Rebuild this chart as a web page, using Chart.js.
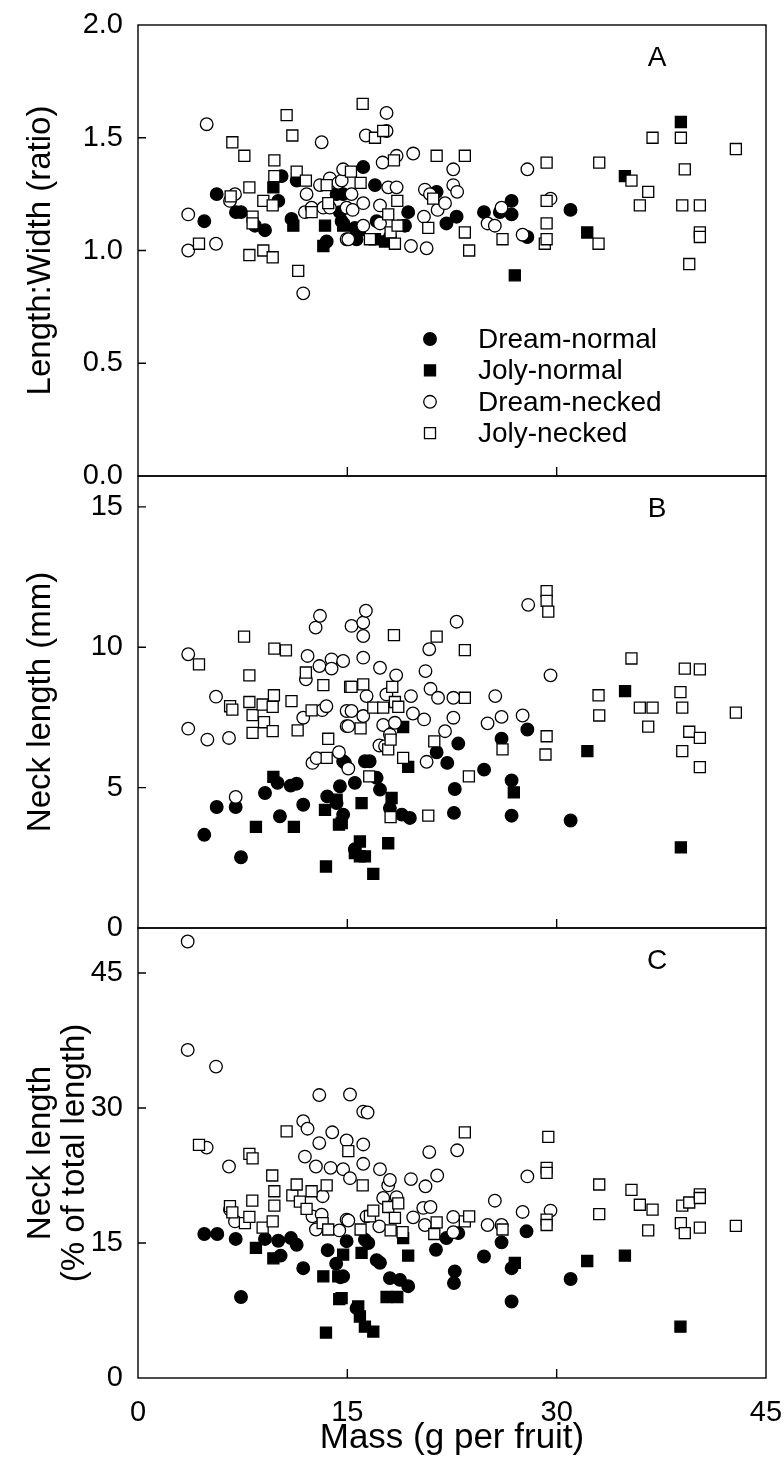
<!DOCTYPE html>
<html>
<head>
<meta charset="utf-8">
<script src="https://cdn.jsdelivr.net/npm/chart.js@4.4.0/dist/chart.umd.min.js"></script>
<style>
html, body { margin: 0; padding: 0; background: #fff; }
#wrap { position: relative; width: 784px; height: 1458px; overflow: hidden; }
canvas { position: absolute; left: 0; }
</style>
</head>
<body>
<div id="wrap">
  <canvas id="chartA" width="784" height="523" style="top:-11px"></canvas>
  <canvas id="chartB" width="784" height="524" style="top:440px"></canvas>
  <canvas id="chartC" width="784" height="566" style="top:892px"></canvas>
</div>
<script>
// ---- DATA: [mass, value] pairs ----
const seriesNames = ["Dream-normal", "Joly-normal", "Dream-necked", "Joly-necked"];
const xTickValues = [0, 15, 30, 45];

// Panel A: Length:Width ratio
const dreamNormalA = [[4.75,1.13],[5.64,1.25],[7.02,1.17],[7.38,1.17],[8.38,1.11],[9.1,1.09],[10.05,1.22],[10.29,1.33],[11.0,1.14],[11.37,1.31],[13.52,1.04],[14.23,1.25],[14.59,1.13],[14.47,1.17],[14.7,1.12],[14.7,1.25],[15.54,1.1],[15.66,1.05],[16.14,1.37],[16.98,1.29],[17.1,1.13],[18.05,1.06],[19.13,1.11],[19.36,1.17],[21.4,1.26],[22.1,1.12],[22.83,1.15],[24.79,1.17],[25.93,1.17],[26.77,1.22],[26.77,1.16],[27.9,1.06],[30.99,1.18]];
const jolyNormalA = [[9.7,1.28],[11.13,1.11],[13.4,1.11],[13.28,1.02],[14.7,1.11],[15.9,1.09],[16.98,1.05],[17.7,1.04],[19.0,1.11],[27.0,0.89],[32.19,1.08],[34.89,1.33],[38.9,1.57]];
const dreamNeckedA = [[3.6,1.16],[3.6,1.0],[4.92,1.56],[5.59,1.03],[6.59,1.22],[6.95,1.25],[11.84,0.81],[11.96,1.17],[12.08,1.25],[12.44,1.19],[13.04,1.29],[13.16,1.48],[13.28,1.19],[13.75,1.32],[13.75,1.19],[14.35,1.3],[14.6,1.31],[14.7,1.36],[14.95,1.19],[14.95,1.05],[15.07,1.05],[15.3,1.25],[15.38,1.18],[16.14,1.21],[16.14,1.11],[16.33,1.51],[17.34,1.2],[17.34,1.12],[17.53,1.39],[17.81,1.61],[17.81,1.53],[17.93,1.28],[18.53,1.28],[18.53,1.42],[19.56,1.02],[19.72,1.43],[20.49,1.15],[20.56,1.27],[20.68,1.01],[20.92,1.25],[21.47,1.18],[22.0,1.21],[22.59,1.29],[22.59,1.36],[22.87,1.26],[25.05,1.12],[25.57,1.11],[26.05,1.19],[27.56,1.07],[27.9,1.36],[29.56,1.23]];
const jolyNeckedA = [[4.37,1.03],[6.64,1.24],[6.76,1.48],[7.62,1.42],[7.98,1.28],[7.98,0.98],[8.21,1.15],[8.21,1.12],[8.98,1.22],[8.98,1.0],[9.65,1.2],[9.65,0.97],[9.77,1.4],[9.77,1.33],[10.65,1.6],[11.06,1.51],[11.37,1.35],[11.48,0.91],[12.03,1.31],[12.44,1.17],[13.52,1.29],[13.63,1.21],[15.26,1.35],[15.95,1.3],[16.1,1.65],[16.62,1.05],[16.98,1.5],[17.57,1.53],[17.93,1.16],[18.1,1.08],[18.34,1.4],[18.41,1.03],[18.58,1.22],[18.6,1.11],[20.8,1.1],[21.15,1.23],[21.4,1.42],[23.42,1.42],[23.42,1.08],[23.73,1.0],[26.12,1.05],[29.15,1.03],[29.28,1.05],[29.28,1.12],[29.28,1.22],[29.28,1.39],[33.0,1.03],[33.05,1.39],[35.36,1.31],[35.96,1.2],[36.56,1.26],[36.87,1.5],[38.9,1.5],[39.0,1.2],[39.18,1.36],[39.5,0.94],[40.26,1.2],[40.26,1.08],[40.26,1.06],[42.84,1.45]];

// Panel B: neck length (mm)
const dreamNormalB = [[4.75,3.32],[5.64,4.31],[7.0,4.31],[7.38,2.52],[9.1,4.81],[10.0,5.17],[10.17,3.98],[10.94,5.07],[11.37,5.14],[11.84,4.39],[13.56,4.69],[14.23,4.45],[14.47,5.05],[14.7,4.04],[14.7,5.94],[14.83,5.88],[15.54,5.17],[15.54,2.81],[16.26,5.94],[16.6,5.94],[17.1,5.35],[17.34,4.93],[18.05,4.27],[18.9,4.04],[19.48,3.92],[21.4,6.26],[22.16,5.88],[22.64,4.1],[22.7,4.95],[22.95,6.57],[24.8,5.64],[26.05,6.74],[26.77,5.26],[26.77,4.0],[27.9,7.07],[31.0,3.83]];
const jolyNormalB = [[8.45,3.6],[9.7,5.38],[11.17,3.6],[13.4,4.21],[13.47,2.19],[14.23,4.57],[14.4,3.68],[14.6,3.74],[15.54,2.67],[15.9,3.08],[15.9,2.55],[16.02,4.45],[16.26,2.55],[16.86,1.93],[17.93,3.02],[18.17,4.63],[19.0,7.16],[19.36,5.74],[26.93,4.83],[32.2,6.3],[34.9,8.44],[38.9,2.87]];
const dreamNeckedB = [[3.6,9.75],[3.6,7.1],[4.97,6.71],[5.59,8.24],[6.52,6.77],[7.0,4.67],[11.84,7.49],[12.03,8.86],[12.15,9.69],[12.5,5.88],[12.73,10.7],[12.8,6.05],[13.04,11.12],[13.0,9.33],[13.2,7.76],[13.5,7.9],[13.87,9.57],[13.87,9.24],[14.4,6.26],[14.7,9.51],[14.95,7.73],[14.95,7.19],[15.07,7.19],[15.07,5.68],[15.3,10.76],[15.3,7.73],[16.14,10.88],[16.14,10.4],[16.14,9.63],[16.14,7.55],[16.33,11.3],[16.38,8.26],[17.3,6.5],[17.34,9.27],[17.57,7.23],[17.7,6.48],[17.8,8.32],[18.05,6.89],[18.41,7.31],[18.5,9.0],[19.56,8.26],[19.7,7.64],[20.5,7.43],[20.6,9.15],[20.68,5.92],[20.87,9.93],[20.96,8.52],[21.5,8.2],[22.0,7.01],[22.6,8.2],[22.6,7.49],[22.83,10.91],[25.05,7.29],[25.6,8.26],[26.05,7.52],[27.56,7.57],[27.96,11.51],[29.56,9.0]];
const jolyNeckedB = [[4.37,9.39],[6.6,7.9],[6.76,7.78],[7.6,10.38],[7.98,9.0],[7.98,8.05],[8.21,7.58],[8.21,6.95],[8.93,7.96],[9.03,7.33],[9.65,7.88],[9.65,7.01],[9.74,8.29],[9.77,9.95],[10.6,9.89],[11.0,8.08],[11.44,7.04],[12.03,9.1],[12.44,7.75],[13.28,8.65],[13.52,6.06],[13.63,6.74],[15.2,8.59],[15.3,8.59],[15.95,7.11],[16.14,8.68],[16.57,5.4],[16.86,7.85],[17.57,7.85],[17.93,6.36],[18.1,6.71],[18.1,3.95],[18.22,8.59],[18.34,10.43],[18.41,8.05],[18.65,7.88],[19.0,6.06],[20.8,4.0],[21.23,6.65],[21.4,10.38],[23.42,9.9],[23.42,8.2],[23.71,5.4],[26.12,6.36],[29.2,6.18],[29.28,6.83],[29.28,12.0],[29.28,11.65],[29.4,11.27],[33.0,8.29],[33.05,7.57],[35.36,9.6],[35.96,7.85],[36.56,7.17],[36.87,7.85],[38.87,8.4],[39.0,7.85],[39.0,6.3],[39.18,9.24],[39.5,6.99],[40.26,9.21],[40.26,6.77],[40.26,5.73],[42.84,7.67]];

// Panel C: neck length (% of total length)
const dreamNormalC = [[4.75,16.0],[5.68,16.0],[7.0,15.45],[7.38,9.0],[9.1,15.45],[10.05,15.25],[10.22,13.6],[10.96,15.55],[11.37,14.8],[11.84,12.2],[13.59,14.2],[14.2,12.7],[14.5,11.2],[14.7,11.3],[14.95,15.2],[15.66,7.76],[16.26,15.37],[16.5,15.0],[17.1,13.1],[17.34,12.8],[18.05,11.1],[18.77,10.9],[19.36,10.2],[21.35,14.25],[22.1,15.55],[22.95,16.1],[22.64,10.55],[22.7,11.85],[24.79,13.5],[26.05,15.07],[26.77,12.2],[26.77,8.5],[27.84,16.3],[31.0,11.0]];
const jolyNormalC = [[8.45,14.45],[9.7,13.3],[13.28,11.3],[13.47,5.05],[14.35,11.3],[14.42,8.76],[14.59,8.87],[14.7,13.7],[15.78,7.94],[15.9,6.83],[16.02,13.9],[16.26,5.7],[16.86,5.16],[17.81,9.0],[18.58,9.0],[19.0,15.55],[19.36,13.6],[27.0,12.8],[32.19,13.0],[34.89,13.6],[38.87,5.7]];
const dreamNeckedC = [[3.56,48.5],[3.56,36.45],[4.92,25.6],[5.59,34.6],[6.52,23.5],[6.59,18.7],[6.95,17.4],[11.84,28.54],[11.96,24.6],[12.15,27.7],[12.5,17.96],[12.75,23.5],[12.75,16.5],[12.99,31.44],[12.99,26.1],[13.16,18.15],[13.23,20.2],[13.8,23.35],[13.92,27.3],[14.42,16.4],[14.7,23.2],[14.95,26.4],[14.95,17.6],[15.07,17.5],[15.19,31.5],[15.19,22.2],[16.14,29.6],[16.14,25.95],[16.14,23.8],[16.38,17.96],[16.45,29.5],[17.29,16.85],[17.34,23.2],[17.57,20.0],[17.93,21.4],[18.05,22.0],[18.53,20.1],[19.56,22.1],[19.72,17.85],[20.44,18.9],[20.56,17.0],[20.6,21.3],[20.87,25.1],[20.96,19.0],[21.44,22.5],[22.59,17.9],[22.59,16.2],[22.87,25.3],[25.05,17.0],[25.57,19.7],[26.05,17.0],[27.56,18.45],[27.9,22.4],[29.56,18.6]];
const jolyNeckedC = [[4.37,25.9],[6.59,19.1],[6.76,18.4],[7.66,17.2],[7.98,24.9],[7.98,17.9],[8.19,19.7],[8.21,24.4],[8.93,16.7],[9.62,22.5],[9.65,17.4],[9.77,20.75],[9.77,19.15],[10.65,27.4],[11.06,20.3],[11.37,21.5],[11.6,19.6],[12.08,18.8],[12.44,20.75],[13.23,17.2],[13.52,21.4],[13.63,16.5],[15.07,25.2],[15.95,16.5],[16.1,21.4],[16.62,17.96],[16.86,18.6],[17.93,19.0],[18.1,16.4],[18.41,17.8],[18.65,19.4],[18.96,16.2],[21.23,16.0],[21.4,17.3],[23.42,27.3],[23.42,17.4],[23.73,17.96],[26.12,16.5],[29.28,23.35],[29.28,22.8],[29.28,17.6],[29.28,17.0],[29.4,26.8],[33.05,21.5],[33.05,18.2],[35.36,20.9],[35.96,19.25],[36.56,16.4],[36.87,18.7],[38.9,17.2],[39.0,19.15],[39.18,16.1],[39.5,19.5],[40.26,20.4],[40.26,20.0],[40.26,16.7],[42.84,16.9]];

// ---- STYLE ----
const FONT = '"Liberation Sans", Arial, sans-serif';
Chart.defaults.font.family = FONT;
Chart.defaults.color = "#000";

const markers = [
  { style: "circle", fill: "#000", r: 6.3 },
  { style: "rect",   fill: "#000", r: 7.8 },
  { style: "circle", fill: "#fff", r: 6.3 },
  { style: "rect",   fill: "#fff", r: 7.8 }
];

function makeDatasets(sets) {
  return sets.map((pts, i) => ({
    label: seriesNames[i],
    data: pts.map(p => ({ x: p[0], y: p[1] })),
    pointStyle: markers[i].style,
    pointRadius: markers[i].r,
    backgroundColor: markers[i].fill,
    borderColor: "#000",
    borderWidth: 1.3,
    showLine: false,
    order: 4 - i          // later series drawn on top
  }));
}

function drawMarker(ctx, m, x, y) {
  ctx.beginPath();
  if (m.style === "circle") {
    ctx.arc(x, y, m.r, 0, Math.PI * 2);
  } else {
    const s = Math.SQRT1_2 * m.r;
    ctx.rect(x - s, y - s, 2 * s, 2 * s);
  }
  ctx.fillStyle = m.fill;
  ctx.fill();
  ctx.lineWidth = 1.3;
  ctx.strokeStyle = "#000";
  ctx.stroke();
}

// frame, inward ticks, panel letter, legend
const framePlugin = {
  id: "frame",
  afterDraw(chart, args, opts) {
    const { ctx, chartArea: a, scales } = chart;
    ctx.save();
    ctx.strokeStyle = "#000";
    ctx.lineWidth = 1.4;
    ctx.strokeRect(a.left, a.top, a.right - a.left, a.bottom - a.top);

    ctx.beginPath();
    scales.y.ticks.forEach(t => {
      if (t.value <= scales.y.min || t.value >= scales.y.max) return;
      const py = scales.y.getPixelForValue(t.value);
      ctx.moveTo(a.left, py);
      ctx.lineTo(a.left + 8, py);
    });
    xTickValues.forEach(v => {
      if (v <= 0 || v >= 45) return;
      const px = scales.x.getPixelForValue(v);
      ctx.moveTo(px, a.bottom);
      ctx.lineTo(px, a.bottom - 9);
    });
    ctx.stroke();

    ctx.fillStyle = "#000";
    ctx.font = "28px " + FONT;
    ctx.textAlign = "center";
    ctx.textBaseline = "middle";
    ctx.fillText(opts.letter, a.right - 109, a.top + 33);

    if (opts.legend) {
      ctx.textAlign = "left";
      seriesNames.forEach((name, i) => {
        const y = a.top + 314 + i * 31.4;
        drawMarker(ctx, markers[i], a.left + 292, y);
        ctx.fillStyle = "#000";
        ctx.font = "28px " + FONT;
        ctx.fillText(name, a.left + 340, y + 1);
      });
    }
    ctx.restore();
  }
};

function makePanel(id, sets, yCfg, letter, withX, withLegend, pad) {
  const xScale = {
    type: "linear",
    min: 0, max: 45,
    display: withX,
    border: { display: false },
    grid: { display: false, drawTicks: false },
    ticks: { stepSize: 15, padding: 1, maxRotation: 0, autoSkip: false,
             font: { size: 29, lineHeight: 2.34 }, color: "#000" },
    title: { display: true, text: "Mass (g per fruit)", color: "#000",
             font: { size: 35, lineHeight: 1.1 }, padding: { top: 0, bottom: 0 } }
  };
  if (withX) xScale.afterFit = s => { s.height = 80; };

  return new Chart(document.getElementById(id), {
    type: "scatter",
    data: { datasets: makeDatasets(sets) },
    plugins: [framePlugin],
    options: {
      responsive: false,
      animation: false,
      events: [],
      layout: { padding: pad },
      plugins: {
        legend: { display: false },
        tooltip: { enabled: false },
        frame: { letter: letter, legend: withLegend }
      },
      scales: {
        x: xScale,
        y: {
          type: "linear",
          min: yCfg.min, max: yCfg.max,
          afterFit: s => { s.width = 138; },
          border: { display: false },
          grid: { display: false, drawTicks: false },
          ticks: { stepSize: yCfg.step, includeBounds: false, padding: 15,
                   font: { size: 29 }, color: "#000", callback: yCfg.fmt },
          title: { display: true, text: yCfg.title, color: "#000",
                   font: { size: 33, lineHeight: 1.02 }, padding: { top: 24, bottom: 0 } }
        }
      }
    }
  });
}

makePanel("chartA", [dreamNormalA, jolyNormalA, dreamNeckedA, jolyNeckedA],
  { min: 0, max: 2, step: 0.5, fmt: v => v.toFixed(1), title: "Length:Width (ratio)" },
  "A", false, true, { left: 0, right: 18, top: 36, bottom: 36 });

makePanel("chartB", [dreamNormalB, jolyNormalB, dreamNeckedB, jolyNeckedB],
  { min: 0, max: 16.1, step: 5, fmt: v => String(v), title: "Neck length (mm)" },
  "B", false, false, { left: 0, right: 18, top: 36, bottom: 36 });

makePanel("chartC", [dreamNormalC, jolyNormalC, dreamNeckedC, jolyNeckedC],
  { min: 0, max: 50, step: 15, fmt: v => String(v), title: ["Neck length", "(% of total length)"] },
  "C", true, false, { left: 0, right: 18, top: 36, bottom: 0 });
</script>
</body>
</html>
